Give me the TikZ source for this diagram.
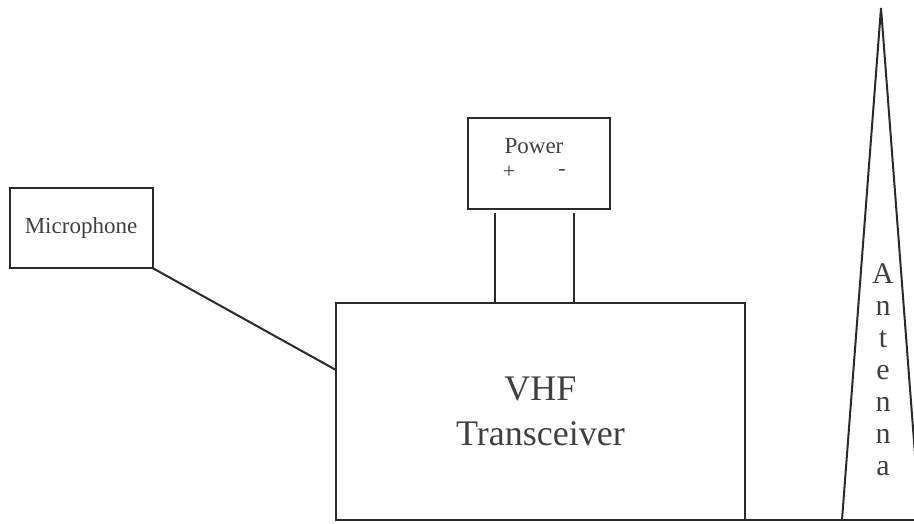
\documentclass[tikz,border=0pt]{standalone}
\usepackage{fontspec}
\setmainfont{Liberation Serif}
\definecolor{ink}{HTML}{2A2A2A}
\definecolor{txt}{HTML}{404040}
\begin{document}
\begin{tikzpicture}[x=1pt,y=-1pt,
  box/.style={draw=ink,line width=2pt,rectangle,inner sep=0pt,outer sep=0pt,text=txt},
  wire/.style={draw=ink,line width=2pt},
  lbl/.style={text=txt,inner sep=0pt}]
\useasboundingbox (0,0) rectangle (914,524);
\clip (0,0) rectangle (914,524);
\fill[white] (0,0) rectangle (914,524);
% Microphone
\node[box,minimum width=143pt,minimum height=80pt,font=\fontsize{23}{27}\selectfont] (mic) at (81,228) {Microphone};
% Power
\node[box,minimum width=142pt,minimum height=91pt] (pw) at (539,163.5) {};
\node[lbl,font=\fontsize{23}{27}\selectfont] (pwt) at (534,146) {Power};
\node[lbl,font=\fontsize{22}{26}\selectfont] (plus) at (509,172) {+};
\node[lbl,font=\fontsize{22}{26}\selectfont] (minus) at (562,172) {-};
% VHF transceiver
\node[box,minimum width=409pt,minimum height=217pt,align=center,font=\fontsize{36}{45}\selectfont] (vhf) at (540.5,411.5) {VHF\\Transceiver};
% power wires
\coordinate (p1) at (495,213);
\coordinate (p2) at (574,213);
\draw[wire] (p1) -- (p1 |- vhf.north);
\draw[wire] (p2) -- (p2 |- vhf.north);
% microphone cable
\coordinate (mv) at (336,370);
\draw[wire] (mic.south east) -- (mv);
% antenna
\coordinate (apex) at (881,8);
\coordinate (bl) at (842,520);
\coordinate (br) at (920,520);
\coordinate (edge) at (914,520);
\draw[wire,line join=miter] (bl) -- (apex) -- (br);
\draw[wire] (vhf.south east) -- (edge);
\node[lbl,align=center,font=\fontsize{30}{32}\selectfont] (ant) at (883,370) {A\\n\\t\\e\\n\\n\\a};
\end{tikzpicture}
\end{document}
